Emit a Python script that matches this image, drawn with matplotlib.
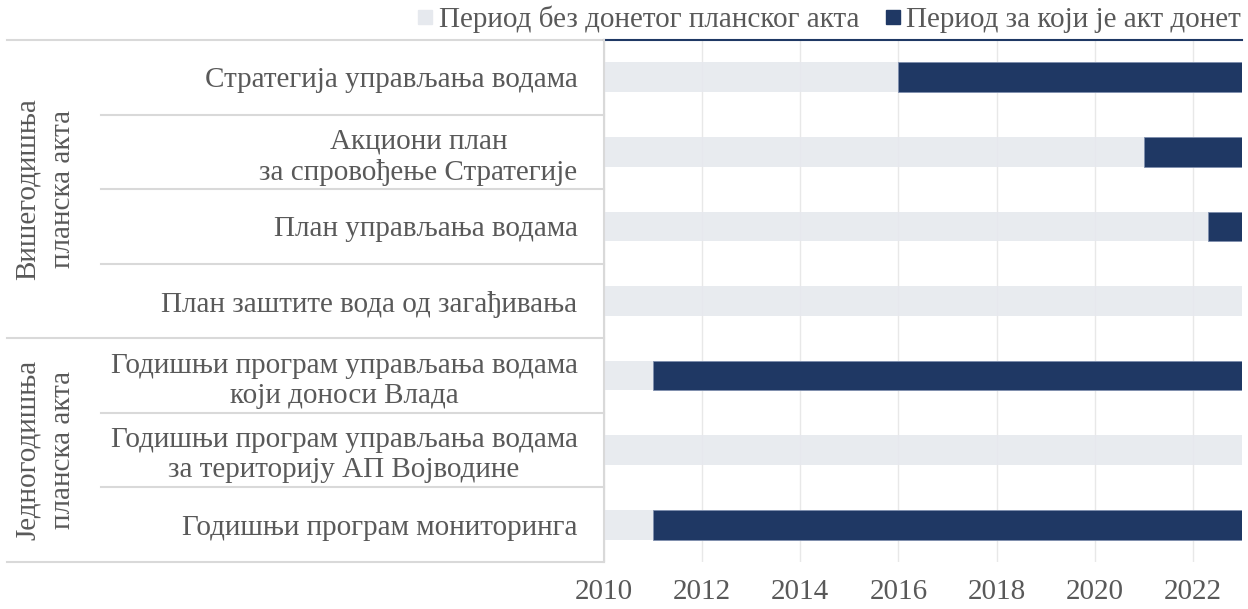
import matplotlib.pyplot as plt
from matplotlib.lines import Line2D

plt.rcParams['font.family'] = ['Liberation Serif', 'DejaVu Serif']

# подаци
kategorije = [
    'Стратегија управљања водама',
    'Акциони план\nза спровођење Стратегије',
    'План управљања водама',
    'План заштите вода од загађивања',
    'Годишњи програм управљања водама\nкоји доноси Влада',
    'Годишњи програм управљања водама\nза територију АП Војводине',
    'Годишњи програм мониторинга',
]
grupe = ['Вишегодишња\nпланска акта', 'Једногодишња\nпланска акта']
grupa_redovi = [(0, 3), (4, 6)]
pocetak = [2010, 2010, 2010, 2010, 2010, 2010, 2010]
kraj = [2023, 2023, 2023, 2023, 2023, 2023, 2023]
donet_od = [2016, 2021, 2022.3, None, 2011, None, 2011]
godine = [2010, 2012, 2014, 2016, 2018, 2020, 2022]
legenda = ['Период без донетог планског акта', 'Период за који је акт донет']

c_siva = '#e6e9ee'
c_tamna = '#1f3864'
c_tekst = '#595959'
c_linija = '#d9d9d9'
fs = 21

fig = plt.figure(figsize=(12.48, 6.09), dpi=100)
ax = fig.add_axes([604/1248, 1-562/609, 638/1248, 522/609])

y = list(range(len(kategorije)))
ax.barh(y, [k - p for p, k in zip(pocetak, kraj)], left=pocetak, height=0.4,
        color=c_siva, alpha=0.9, zorder=2)
for i, d in enumerate(donet_od):
    if d is None:
        continue
    ax.barh(i, kraj[i] - d, left=d, height=0.4, color=c_tamna,
            edgecolor='#7f8fae', linewidth=0.6, zorder=3)

ax.set_xlim(2010, 2023)
ax.set_ylim(6.5, -0.5)
ax.set_xticks(godine)
ax.set_xticklabels([str(g) for g in godine])
ax.set_yticks(y)
ax.set_yticklabels(kategorije)
for t in ax.get_yticklabels():
    t.set_multialignment('center')
    t.set_linespacing(1.2)
ax.tick_params(axis='both', length=0, labelsize=fs, labelcolor=c_tekst)
ax.tick_params(axis='y', pad=19)
ax.tick_params(axis='x', pad=12)
ax.grid(axis='x', color='#e8e8e8', linewidth=1, zorder=1)
ax.set_axisbelow(True)
for s in ['top', 'right', 'bottom']:
    ax.spines[s].set_visible(False)
ax.spines['left'].set_color(c_linija)
ax.spines['left'].set_linewidth(1.5)

# линије табеле лево
tr = ax.get_yaxis_transform()
x_red = (101 - 604) / 638
x_grupa = (7 - 604) / 638
for g in [0.5, 1.5, 2.5, 4.5, 5.5]:
    ax.plot([x_red, 0], [g, g], transform=tr, color=c_linija, lw=1.5, clip_on=False)
for g in [-0.5, 3.5, 6.5]:
    ax.plot([x_grupa, 0], [g, g], transform=tr, color=c_linija, lw=1.5, clip_on=False)
ax.plot([0, 1], [-0.5, -0.5], transform=tr, color=c_tamna, lw=1.5, clip_on=False)

for naziv, (a, b) in zip(grupe, grupa_redovi):
    l1, l2 = naziv.split('\n')
    yc = (a + b) / 2
    ax.text((28 - 604) / 638, yc, l1, transform=tr, rotation=90, ha='center',
            va='center', fontsize=fs, color=c_tekst)
    ax.text((63 - 604) / 638, yc, l2, transform=tr, rotation=90, ha='center',
            va='center', fontsize=fs, color=c_tekst)

ruke = [Line2D([], [], marker='s', linestyle='', markersize=10, color=c_siva),
        Line2D([], [], marker='s', linestyle='', markersize=10, color=c_tamna)]
fig.legend(ruke, legenda, loc='upper right', bbox_to_anchor=(1258/1248, 1.02),
           ncol=2, frameon=False, fontsize=fs, labelcolor=c_tekst,
           handlelength=0.5, handletextpad=0.2, columnspacing=0.9, borderpad=0.1)

fig.savefig('out.png', dpi=100)
